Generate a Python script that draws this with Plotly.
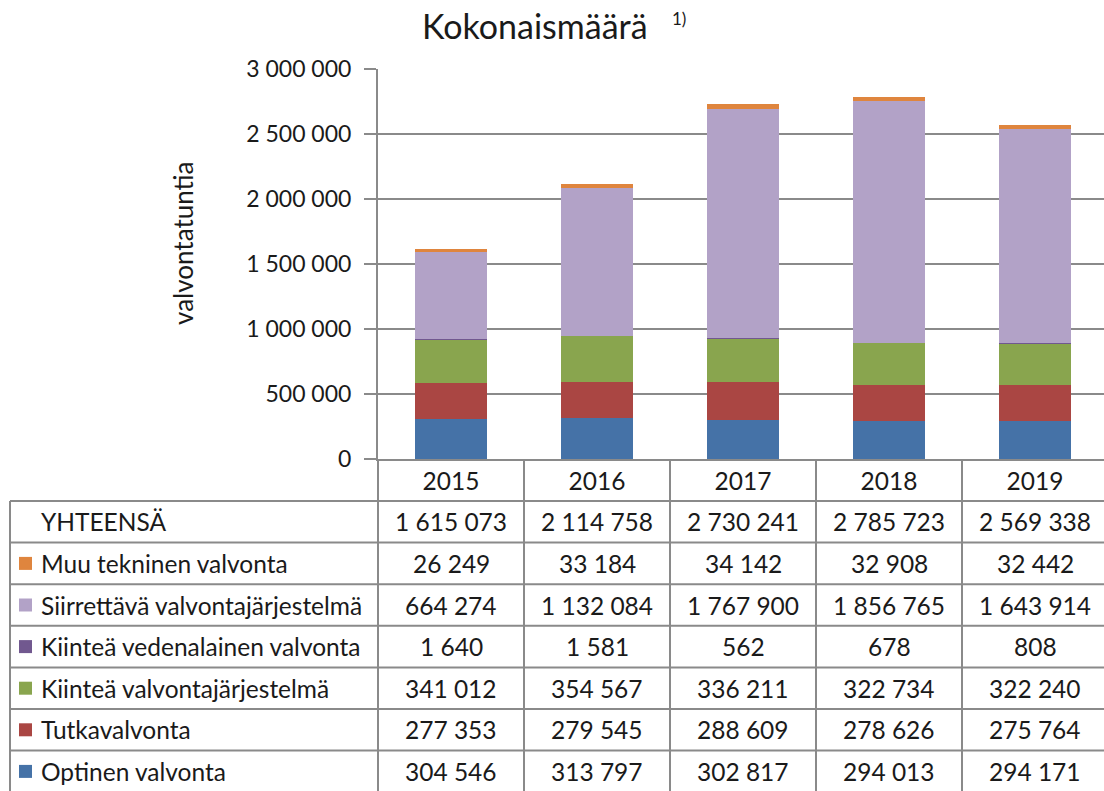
import plotly.graph_objects as go

W, H = 1104, 791
FONT = "Lato"

years = ["2015", "2016", "2017", "2018", "2019"]
optinen = [304546, 313797, 302817, 294013, 294171]
tutka = [277353, 279545, 288609, 278626, 275764]
kiintea_valv = [341012, 354567, 336211, 322734, 322240]
kiintea_veden = [1640, 1581, 562, 678, 808]
siirrettava = [664274, 1132084, 1767900, 1856765, 1643914]
muu = [26249, 33184, 34142, 32908, 32442]
yhteensa = [1615073, 2114758, 2730241, 2785723, 2569338]

# series in stacking order (bottom -> top)
series = [
    ("Optinen valvonta", optinen, "#4572A7"),
    ("Tutkavalvonta", tutka, "#AA4643"),
    ("Kiinteä valvontajärjestelmä", kiintea_valv, "#89A54E"),
    ("Kiinteä vedenalainen valvonta", kiintea_veden, "#71588F"),
    ("Siirrettävä valvontajärjestelmä", siirrettava, "#B2A2C7"),
    ("Muu tekninen valvonta", muu, "#DF853E"),
]

def px(x):
    return x / W

def py(y):
    return 1 - y / H

def fmt(v):
    return f"{v:,}".replace(",", " ")

GRID = "#8A8A8A"
TEXT = "#1a1a1a"
TS = 24.5  # table text size

fig = go.Figure()
for name, vals, col in series:
    fig.add_trace(go.Bar(x=list(range(len(years))), y=vals, name=name,
                         marker=dict(color=col, line=dict(width=0)), width=0.49))

col_w = 146.0
x_left, axis_y, top_y = 378, 459, 69
fig.update_layout(
    width=W, height=H, margin=dict(l=0, r=0, t=0, b=0),
    barmode="stack", showlegend=False,
    paper_bgcolor="white", plot_bgcolor="white",
    separators=", ",
    font=dict(family=FONT, size=20, color=TEXT),
    xaxis=dict(domain=[px(x_left), 1], range=[-0.5, -0.5 + (W - x_left) / col_w],
               tickmode="array", tickvals=list(range(len(years))), ticktext=years,
               showline=True, linecolor=GRID, linewidth=2,
               ticks="", showgrid=False, zeroline=False, automargin=False,
               tickfont=dict(size=TS, family=FONT, color=TEXT),
               ticklabelstandoff=0, fixedrange=True),
    yaxis=dict(domain=[py(axis_y), py(top_y)], range=[0, 3000000], dtick=500000,
               tickformat=",d", showgrid=True, gridcolor=GRID, gridwidth=2,
               showline=True, linecolor=GRID, linewidth=2, zeroline=False, automargin=False,
               ticks="outside", ticklen=12, tickwidth=2, tickcolor=GRID,
               tickfont=dict(size=23, family=FONT, color=TEXT), ticklabelstandoff=8),
)

# title
fig.add_annotation(text="Kokonaismäärä", x=px(535), y=py(25), xref="paper", yref="paper",
                   xanchor="center", yanchor="middle",
                   showarrow=False, font=dict(size=34, family=FONT, color=TEXT))
fig.add_annotation(text="1)", x=px(679), y=py(18), xref="paper", yref="paper",
                   xanchor="center", yanchor="middle",
                   showarrow=False, font=dict(size=17, family=FONT, color=TEXT))
# y-axis title
fig.add_annotation(text="valvontatuntia", x=px(183), y=py(243), xref="paper", yref="paper",
                   xanchor="center", yanchor="middle",
                   textangle=-90, showarrow=False, font=dict(size=26, family=FONT, color=TEXT))

# data table
row_h = 41.6
table_top = 501
table_rows = [("YHTEENSÄ", yhteensa, None)] + [(n, v, c) for n, v, c in reversed(series)]
shapes = []
line = dict(color=GRID, width=2)
for i in range(len(table_rows)):
    y = table_top + i * row_h
    shapes.append(dict(type="line", xref="paper", yref="paper", x0=px(10), x1=1,
                       y0=py(y), y1=py(y), line=line))
bottom = H + 2
shapes.append(dict(type="line", xref="paper", yref="paper", x0=px(10), x1=px(10),
                   y0=py(table_top), y1=py(bottom), line=line))
for k in range(len(years)):
    xb = x_left + k * col_w
    shapes.append(dict(type="line", xref="paper", yref="paper", x0=px(xb), x1=px(xb),
                       y0=py(axis_y), y1=py(bottom), line=line))

for i, (name, vals, col) in enumerate(table_rows):
    yc = table_top + (i + 0.5) * row_h
    fig.add_annotation(text=name, x=px(39), y=py(yc), xref="paper", yref="paper",
                       xanchor="left", yanchor="middle", showarrow=False,
                       font=dict(size=TS, family=FONT, color=TEXT))
    if col:
        shapes.append(dict(type="rect", xref="paper", yref="paper", x0=px(19), x1=px(32),
                           y0=py(yc - 6.5), y1=py(yc + 6.5), fillcolor=col, line=dict(width=0)))
    for k, v in enumerate(vals):
        fig.add_annotation(text=fmt(v), x=k, y=py(yc), xref="x", yref="paper",
                           xanchor="center", yanchor="middle", showarrow=False,
                           font=dict(size=TS, family=FONT, color=TEXT))

fig.update_layout(shapes=shapes)
fig.write_html("out.html", config={"displayModeBar": False},
               post_script="document.body.style.margin='0';")
